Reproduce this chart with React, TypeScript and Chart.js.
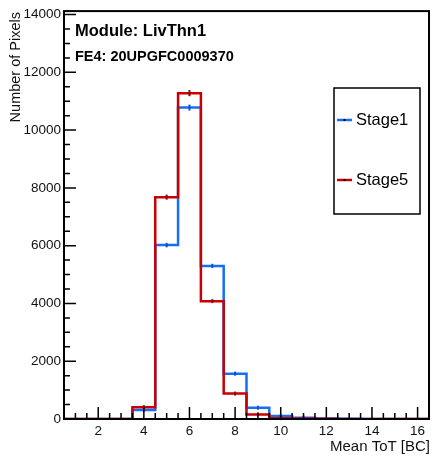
import React, { useEffect, useRef } from "react";
import { Chart, registerables } from "chart.js";

Chart.register(...registerables);

// Histogram bins (centers, width 1)
const binCenters = [1, 2, 3, 4, 5, 6, 7, 8, 9, 10, 11, 12, 13, 14, 15, 16];
const stage1 = [0, 0, 0, 310, 6020, 10780, 5300, 1570, 390, 100, 45, 15, 5, 2, 0, 0];
const stage5 = [0, 0, 0, 410, 7680, 11280, 4080, 880, 160, 30, 15, 5, 2, 0, 0, 0];
const xTickValues = [2, 4, 6, 8, 10, 12, 14, 16];
const yTickValues = [0, 2000, 4000, 6000, 8000, 10000, 12000, 14000];
const seriesNames = ["Stage1", "Stage5"];
const titleLine1 = "Module: LivThn1";
const titleLine2 = "FE4: 20UPGFC0009370";
const xTitle = "Mean ToT [BC]";
const yTitle = "Number of Pixels";

const BLUE = "rgb(20,110,250)";
const RED = "rgb(200,0,0)";
const FONT = "'Liberation Sans', Arial, sans-serif";

function stepPoints(values: number[]) {
  const pts = values.map((v, i) => ({ x: binCenters[i] - 0.5, y: v }));
  const last = values.length - 1;
  pts.push({ x: binCenters[last] + 0.5, y: values[last] });
  return pts;
}

const decorPlugin = {
  id: "rootDecor",
  afterDatasetsDraw(chart: any) {
    const ctx = chart.ctx as CanvasRenderingContext2D;
    const { left, right, top, bottom } = chart.chartArea;
    const xs = chart.scales.x;
    const ys = chart.scales.y;
    ctx.save();

    // error bars
    const series = [
      { vals: stage1, color: "rgb(10,80,200)" },
      { vals: stage5, color: "rgb(150,0,0)" },
    ];
    series.forEach((s) => {
      ctx.strokeStyle = s.color;
      ctx.lineWidth = 2;
      s.vals.forEach((v, i) => {
        if (v < 20) return;
        const px = xs.getPixelForValue(binCenters[i]);
        const e = Math.sqrt(v);
        const y1 = ys.getPixelForValue(v + e);
        const y2 = ys.getPixelForValue(v - e);
        const mid = ys.getPixelForValue(v);
        const h = Math.max((y2 - y1) / 2, 2);
        ctx.beginPath();
        ctx.moveTo(px, mid - h);
        ctx.lineTo(px, mid + h);
        ctx.stroke();
      });
    });

    // inner ticks
    ctx.strokeStyle = "#000";
    ctx.lineWidth = 1.5;
    ctx.beginPath();
    for (let v = 1; v <= 16.001; v += 0.5) {
      const px = xs.getPixelForValue(v);
      const major = Math.abs(v / 2 - Math.round(v / 2)) < 1e-6;
      ctx.moveTo(px, bottom);
      ctx.lineTo(px, bottom - (major ? 12 : 6));
    }
    for (let v = 0; v <= 14000; v += 500) {
      const py = ys.getPixelForValue(v);
      const major = v % 2000 === 0;
      ctx.moveTo(left, py);
      ctx.lineTo(left + (major ? 12 : 6), py);
    }
    ctx.stroke();

    // frame
    ctx.lineWidth = 2;
    ctx.strokeRect(left, top, right - left, bottom - top);

    // texts in plot
    ctx.fillStyle = "#000";
    ctx.textAlign = "left";
    ctx.textBaseline = "middle";
    ctx.font = `bold 16.5px ${FONT}`;
    ctx.fillText(titleLine1, 75, 31.5);
    ctx.font = `bold 14.5px ${FONT}`;
    ctx.fillText(titleLine2, 75, 57);

    // legend
    ctx.fillStyle = "#fff";
    ctx.fillRect(334, 88, 86, 126);
    ctx.strokeStyle = "#000";
    ctx.lineWidth = 1.5;
    ctx.strokeRect(334, 88, 86, 126);
    const legY = [120, 180];
    const legC = [BLUE, RED];
    seriesNames.forEach((name, i) => {
      ctx.strokeStyle = legC[i];
      ctx.lineWidth = 2.5;
      ctx.beginPath();
      ctx.moveTo(337, legY[i]);
      ctx.lineTo(352, legY[i]);
      ctx.stroke();
      ctx.fillStyle = "#000";
      ctx.fillRect(343.5, legY[i] - 1, 2, 2);
      ctx.font = `16.5px ${FONT}`;
      ctx.textAlign = "left";
      ctx.textBaseline = "middle";
      ctx.fillText(name, 356, legY[i]);
    });

    // axis titles
    ctx.fillStyle = "#111";
    ctx.font = `15px ${FONT}`;
    ctx.textAlign = "right";
    ctx.textBaseline = "middle";
    ctx.fillText(xTitle, 430, 447);
    ctx.save();
    ctx.translate(16, 12);
    ctx.rotate(-Math.PI / 2);
    ctx.font = `14.5px ${FONT}`;
    ctx.fillText(yTitle, 0, 0);
    ctx.restore();

    ctx.restore();
  },
};

export default function App() {
  const ref = useRef<HTMLCanvasElement | null>(null);
  useEffect(() => {
    if (!ref.current) return;
    const chart = new Chart(ref.current, {
      type: "line",
      data: {
        datasets: [
          {
            label: seriesNames[0],
            data: stepPoints(stage1),
            borderColor: BLUE,
            borderWidth: 2.5,
            stepped: "before",
            pointRadius: 0,
            fill: false,
            order: 2,
          },
          {
            label: seriesNames[1],
            data: stepPoints(stage5),
            borderColor: RED,
            borderWidth: 2.5,
            stepped: "before",
            pointRadius: 0,
            fill: false,
            order: 1,
          },
        ],
      },
      options: {
        animation: false,
        responsive: false,
        events: [],
        layout: { padding: { top: 11, right: 5, left: 0, bottom: 0 } },
        plugins: { legend: { display: false }, tooltip: { enabled: false }, title: { display: false } },
        scales: {
          x: {
            type: "linear",
            min: 0.5,
            max: 16.5,
            grid: { display: false, drawTicks: false },
            border: { display: false },
            afterBuildTicks: (s: any) => {
              s.ticks = xTickValues.map((v) => ({ value: v }));
            },
            afterFit: (s: any) => {
              s.height = 39;
            },
            ticks: {
              autoSkip: false,
              maxRotation: 0,
              padding: 4,
              color: "#111",
              font: { family: FONT, size: 13.5 },
              callback: (v: any) => String(v),
            },
          },
          y: {
            type: "linear",
            min: 0,
            max: 14120,
            grid: { display: false, drawTicks: false },
            border: { display: false },
            afterBuildTicks: (s: any) => {
              s.ticks = yTickValues.map((v) => ({ value: v }));
            },
            afterFit: (s: any) => {
              s.width = 64;
            },
            ticks: {
              autoSkip: false,
              padding: 3,
              color: "#111",
              font: { family: FONT, size: 13.5 },
              callback: (v: any) => String(v),
            },
          },
        },
      },
      plugins: [decorPlugin],
    });
    return () => chart.destroy();
  }, []);
  return (
    <div style={{ position: "fixed", left: 0, top: 0, width: 434, height: 458, background: "#fff" }}>
      <canvas ref={ref} width={434} height={458} style={{ display: "block" }} />
    </div>
  );
}
